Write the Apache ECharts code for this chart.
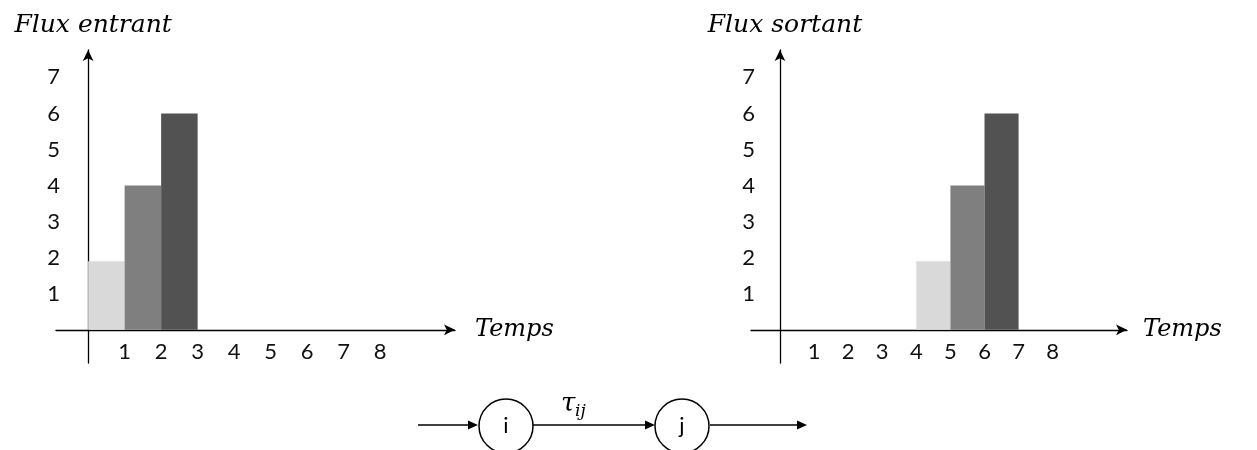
<!DOCTYPE html>
<html lang="fr">
<head>
    <meta charset="UTF-8">
    <script src="https://cdn.jsdelivr.net/npm/echarts@6/dist/echarts.min.js"></script>
    <title>Flux entrant / Flux sortant</title>
    <style>
        html, body { margin: 0; padding: 0; background: #fff; }
    </style>
</head>
<body>
    <div id="main" style="width:1257px;height:450px"></div>
    <script>
        // time ticks shown under each x axis, and flux ticks on the y axis
        var timeTicks = [1, 2, 3, 4, 5, 6, 7, 8];
        var fluxTicks = [1, 2, 3, 4, 5, 6, 7];

        // incoming flow: each bar covers one time step starting at start[i]
        var inStart = [0, 1, 2];
        var inValues = [1.9, 4, 6];

        // outgoing flow: same packets, delayed by tau_ij
        var outStart = [4, 5, 6];
        var outValues = [1.9, 4, 6];

        var barColors = ['#d9d9d9', '#7f7f7f', '#525252'];
        var axisFont = 'Lato, "Open Sans", sans-serif';
        var mathFont = '"DejaVu Serif", "Liberation Serif", serif';

        function toBars(start, values) {
            return start.map(function (s, i) { return [s, s + 1, values[i]]; });
        }

        function renderBar(params, api) {
            var p0 = api.coord([api.value(0), 0]);
            var p1 = api.coord([api.value(1), api.value(2)]);
            return {
                type: 'rect',
                shape: { x: p0[0], y: p1[1], width: p1[0] - p0[0], height: p0[1] - p1[1] },
                style: { fill: barColors[params.dataIndex] }
            };
        }

        // labels stay at the grid edge, so the margins pull them back to the zero lines
        function xAxisOf(gridIndex, min, max, gap) {
            return {
                type: 'value',
                gridIndex: gridIndex,
                min: min,
                max: max,
                name: 'Temps',
                nameLocation: 'end',
                nameGap: gap,
                nameTextStyle: { fontFamily: mathFont, fontStyle: 'italic', fontSize: 24, color: '#000' },
                axisLine: {
                    show: true, onZero: true,
                    symbol: ['none', 'arrow'], symbolSize: [8, 11],
                    lineStyle: { color: '#000', width: 1.3 }
                },
                axisTick: { show: false },
                splitLine: { show: false },
                axisLabel: {
                    customValues: timeTicks,
                    margin: -22,
                    color: '#111',
                    fontFamily: axisFont,
                    fontSize: 22
                }
            };
        }

        function yAxisOf(gridIndex, name) {
            return {
                type: 'value',
                gridIndex: gridIndex,
                min: -0.92,
                max: 7.76,
                name: name,
                nameLocation: 'end',
                nameGap: 12,
                nameTextStyle: { fontFamily: mathFont, fontStyle: 'italic', fontSize: 25, color: '#000', padding: [0, 0, 0, 10] },
                axisLine: {
                    show: true, onZero: true,
                    symbol: ['none', 'arrow'], symbolSize: [8, 11],
                    lineStyle: { color: '#000', width: 1.3 }
                },
                axisTick: { show: false },
                splitLine: { show: false },
                axisLabel: {
                    customValues: fluxTicks,
                    margin: -4,
                    color: '#111',
                    fontFamily: axisFont,
                    fontSize: 22
                }
            };
        }

        // small flow diagram i -> j under the charts
        function arrow(x1, x2, y) {
            return [
                { type: 'line', shape: { x1: x1, y1: y, x2: x2 - 8, y2: y }, style: { stroke: '#000', lineWidth: 1.5 } },
                { type: 'polygon', shape: { points: [[x2, y], [x2 - 10, y - 4.5], [x2 - 10, y + 4.5]] }, style: { fill: '#000' } }
            ];
        }
        function node(cx, cy, label) {
            return [
                { type: 'circle', shape: { cx: cx, cy: cy, r: 27 }, style: { fill: '#fff', stroke: '#000', lineWidth: 1.5 } },
                { type: 'text', x: cx, y: cy, style: { text: label, font: '22px ' + axisFont, fill: '#000', align: 'center', verticalAlign: 'middle' } }
            ];
        }
        var diagram = [].concat(
            arrow(418, 478, 425),
            node(506, 426, 'i'),
            arrow(533, 655, 425),
            node(682, 426, 'j'),
            arrow(710, 807, 425),
            [
                { type: 'text', x: 561, y: 404, style: { text: 'τ', font: 'italic 26px ' + mathFont, fill: '#000', align: 'left', verticalAlign: 'middle' } },
                { type: 'text', x: 575, y: 412, style: { text: 'ij', font: 'italic 17px ' + mathFont, fill: '#000', align: 'left', verticalAlign: 'middle' } }
            ]
        );

        var chart = echarts.init(document.getElementById('main'));
        chart.setOption({
            backgroundColor: '#fff',
            animation: false,
            grid: [
                { left: 56, top: 50, width: 399, height: 313 },
                { left: 751, top: 50, width: 376, height: 313 }
            ],
            xAxis: [
                xAxisOf(0, -0.88, 10.05, 20),
                xAxisOf(1, -0.85, 10.18, 16)
            ],
            yAxis: [
                yAxisOf(0, 'Flux entrant'),
                yAxisOf(1, 'Flux sortant')
            ],
            series: [
                {
                    name: 'Flux entrant', type: 'custom',
                    xAxisIndex: 0, yAxisIndex: 0,
                    renderItem: renderBar,
                    encode: { x: [0, 1], y: 2 },
                    data: toBars(inStart, inValues),
                    z: 1
                },
                {
                    name: 'Flux sortant', type: 'custom',
                    xAxisIndex: 1, yAxisIndex: 1,
                    renderItem: renderBar,
                    encode: { x: [0, 1], y: 2 },
                    data: toBars(outStart, outValues),
                    z: 1
                }
            ],
            graphic: diagram
        });
    </script>
</body>
</html>
